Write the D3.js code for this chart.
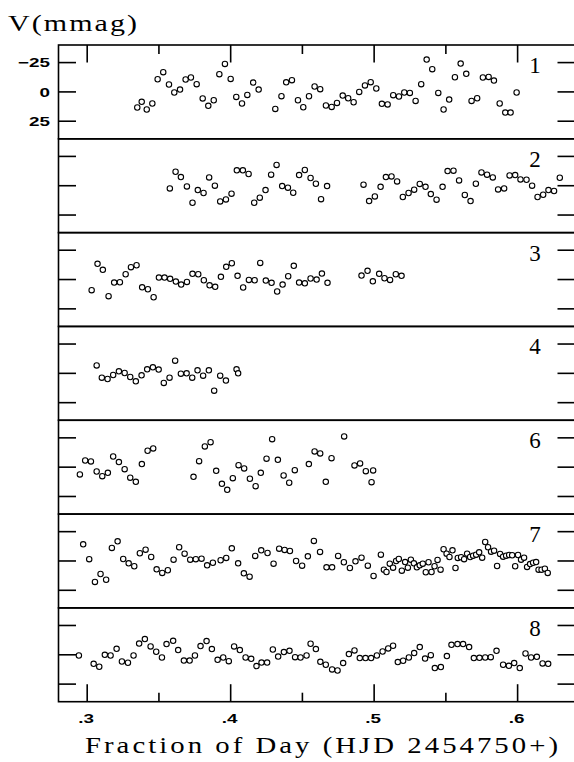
<!DOCTYPE html>
<html>
<head>
<meta charset="utf-8">
<script src="https://cdn.jsdelivr.net/npm/d3@7"></script>
<style>
  body { margin: 0; background: #fff; }
  svg { display: block; }
</style>
</head>
<body>
<div id="chart"></div>
<script>
// Light curves, one panel per night (fraction of day vs V in mmag)
const panelLabels = ['1', '2', '3', '4', '6', '7', '8'];

const t1 = [0.3349,0.3380,0.3415,0.3454,0.3491,0.3530,0.3570,0.3607,0.3647,0.3686,0.3723,0.3763,0.3805,0.3844,0.3882,0.3921,0.3960,0.4000,0.4039,0.4079,0.4116,0.4157,0.4195,0.4311,0.4354,0.4387,0.4427,0.4469,0.4506,0.4546,0.4585,0.4624,0.4664,0.4704,0.4741,0.4781,0.4819,0.4857,0.4896,0.4936,0.4976,0.5015,0.5054,0.5094,0.5133,0.5173,0.5210,0.5249,0.5289,0.5328,0.5366,0.5405,0.5447,0.5484,0.5523,0.5563,0.5603,0.5642,0.5679,0.5718,0.5758,0.5798,0.5835,0.5875,0.5914,0.5951,0.5993];
const v1 = [13.3,8.5,15.0,9.9,-10.8,-16.8,-6.3,0.5,-2.0,-10.6,-12.3,-6.6,5.6,11.9,7.1,-15.1,-23.9,-11.1,4.3,9.9,2.6,-8.0,-2.0,14.5,3.6,-8.2,-10.0,7.1,13.1,3.7,-4.6,-2.3,11.6,12.8,9.4,3.1,5.4,8.8,0,-5.5,-8.3,-2.9,10.2,10.7,2.8,3.9,0.5,0.9,7.7,-6.6,-27.6,-19.4,0.9,15.0,6.5,-12.5,-24.2,-15.4,7.7,5.4,-12.3,-12.8,-9.7,9.9,17.6,17.6,0.5];

const t2 = [0.3576,0.3616,0.3653,0.3695,0.3734,0.3771,0.3811,0.3850,0.3890,0.3927,0.3967,0.4006,0.4043,0.4085,0.4125,0.4164,0.4203,0.4243,0.4282,0.4320,0.4359,0.4399,0.4436,0.4477,0.4517,0.4557,0.4594,0.4630,0.4672,0.4926,0.4965,0.5005,0.5045,0.5082,0.5121,0.5160,0.5200,0.5240,0.5279,0.5318,0.5358,0.5395,0.5435,0.5477,0.5512,0.5553,0.5592,0.5632,0.5672,0.5709,0.5748,0.5787,0.5827,0.5864,0.5906,0.5944,0.5983,0.6020,0.6062,0.6101,0.6139,0.6178,0.6215,0.6254,0.6294];
const v2 = [2.3,-11.9,-7.4,0.6,14.5,3.7,6.2,-7.1,0,13.4,11.7,6.8,-13.1,-13.1,-10.0,14.5,10.2,3.7,-9.4,-17.7,0.3,1.7,6.0,-9.1,-13.4,-6.6,-1.7,11.5,0.3,-0.9,13.1,9.1,0.9,-7.4,-7.9,-3.7,9.6,6.2,3.4,-1.5,0.9,7.1,11.9,0.9,-12.5,-12.8,-4.5,7.9,13.1,-1.7,-11.3,-9.4,-7.1,3.2,2.3,-8.8,-9.1,-5.4,-5.1,0,9.6,7.7,3.7,4.5,-6.8];

const t3 = [0.3031,0.3072,0.3109,0.3149,0.3188,0.3228,0.3268,0.3305,0.3344,0.3383,0.3423,0.3463,0.3500,0.3539,0.3578,0.3618,0.3655,0.3695,0.3734,0.3774,0.3813,0.3853,0.3892,0.3932,0.3969,0.4008,0.4048,0.4087,0.4127,0.4167,0.4206,0.4245,0.4285,0.4324,0.4362,0.4401,0.4440,0.4477,0.4517,0.4557,0.4599,0.4636,0.4675,0.4912,0.4954,0.4991,0.5035,0.5072,0.5111,0.5151,0.5191];
const v3 = [9.1,-13.4,-8.3,14.2,2.6,2.3,-4.5,-10.5,-12.2,6.6,8.3,15.1,-1.7,-1.7,-0.6,1.7,4.3,2.0,-4.9,-4.5,0.6,4.9,6.2,-2.3,-10.8,-13.9,-3.2,6.8,0.3,0.6,-14.2,0.9,2.8,10.2,4.3,-2.8,-11.7,2.6,3.2,-0.9,0,-5.1,2.8,-3.4,-7.4,1.5,-4.9,-1.1,0.3,-4.5,-3.2];

const t4 = [0.3066,0.3102,0.3142,0.3181,0.3221,0.3261,0.3300,0.3339,0.3379,0.3418,0.3458,0.3498,0.3534,0.3574,0.3613,0.3653,0.3693,0.3732,0.3769,0.3808,0.3848,0.3885,0.3927,0.3967,0.4041,0.4052];
const v4 = [-6.8,3.7,4.8,1.4,-1.7,-0.3,3.1,6.8,1.7,-3.4,-5.1,-3.2,8.2,3.7,-10.8,0.3,0,3.7,-2.6,2.0,-2.6,14.8,2.0,6.2,-3.4,0];

const t6 = [0.2949,0.2986,0.3026,0.3066,0.3105,0.3144,0.3181,0.3221,0.3261,0.3300,0.3339,0.3381,0.3421,0.3460,0.3741,0.3780,0.3820,0.3860,0.3899,0.3939,0.3976,0.4015,0.4055,0.4094,0.4134,0.4174,0.4210,0.4250,0.4289,0.4329,0.4369,0.4408,0.4447,0.4545,0.4585,0.4624,0.4663,0.4703,0.4791,0.4863,0.4902,0.4942,0.4982,0.4993];
const v6 = [6.2,-5.7,-4.9,3.7,7.7,4.8,-9.1,-4.3,1.7,9.0,12.5,-2.6,-14.0,-16.0,8.2,-5.1,-17.7,-21.3,3.1,14.2,19.3,9.4,-1.7,1.1,9.9,16.2,4.8,-7.2,-23.9,-6.3,7.1,13.3,2.6,-2.6,-13.4,-11.7,12.5,-7.7,-26.2,-1.5,-3.2,3.4,12.8,2.8];

const t7 = [0.2972,0.3014,0.3054,0.3093,0.3132,0.3172,0.3212,0.3251,0.3289,0.3328,0.3367,0.3407,0.3446,0.3484,0.3523,0.3562,0.3602,0.3641,0.3679,0.3718,0.3757,0.3797,0.3836,0.3876,0.3930,0.3969,0.4008,0.4052,0.4092,0.4132,0.4171,0.4213,0.4257,0.4299,0.4338,0.4376,0.4413,0.4456,0.4498,0.4538,0.4580,0.4623,0.4668,0.4707,0.4749,0.4789,0.4831,0.4870,0.4912,0.4956,0.4996,0.5047,0.5068,0.5086,0.5109,0.5132,0.5153,0.5172,0.5193,0.5216,0.5235,0.5256,0.5277,0.5298,0.5318,0.5339,0.5360,0.5379,0.5400,0.5421,0.5442,0.5463,0.5484,0.5505,0.5525,0.5546,0.5567,0.5583,0.5606,0.5627,0.5648,0.5669,0.5690,0.5711,0.5732,0.5753,0.5774,0.5794,0.5815,0.5836,0.5857,0.5878,0.5899,0.5920,0.5941,0.5962,0.5983,0.6003,0.6024,0.6045,0.6066,0.6087,0.6108,0.6129,0.6146,0.6167,0.6190,0.6210];
const v7 = [-14.2,-1.5,17.9,11.1,16.0,-11.1,-16.8,-1.7,2.0,4.5,-6.6,-9.6,-3.4,7.1,10.2,7.9,-1.1,-11.7,-6.2,-1.1,-1.5,-2.0,3.7,1.5,-0.6,-2.6,-10.8,2.0,10.5,13.4,-4.3,-9.1,-6.8,2.3,-10.5,-9.4,-8.5,0,4.0,-4.0,-17.1,-7.7,5.4,5.4,-4.3,1.1,6.0,0.3,-2.8,4.0,12.8,-5.4,7.4,9.4,2.3,5.7,0,-1.7,8.3,0.9,5.7,-1.1,2.0,5.4,3.7,2.3,9.6,1.1,9.4,4.5,-0.9,7.4,-10.0,-6.2,-3.4,-9.1,6.0,-2.6,-3.2,-1.5,-6.2,-3.4,-4.5,-5.4,-7.4,-2.8,-16.2,-11.7,-7.9,-8.8,4.3,-6.0,-3.7,-4.5,-5.1,-4.9,4.5,-5.1,-1.1,-2.8,5.1,2.6,1.5,0.9,7.4,7.4,6.6,10.2];

const t8 = [0.2942,0.3045,0.3084,0.3123,0.3163,0.3205,0.3242,0.3284,0.3323,0.3362,0.3402,0.3442,0.3481,0.3521,0.3553,0.3599,0.3634,0.3674,0.3714,0.3751,0.3790,0.3832,0.3869,0.3909,0.3948,0.3987,0.4024,0.4064,0.4104,0.4143,0.4180,0.4215,0.4254,0.4294,0.4331,0.4371,0.4410,0.4449,0.4487,0.4529,0.4557,0.4594,0.4625,0.4663,0.4707,0.4745,0.4784,0.4824,0.4863,0.4900,0.4940,0.4979,0.5019,0.5059,0.5098,0.5132,0.5165,0.5202,0.5242,0.5279,0.5318,0.5355,0.5395,0.5423,0.5465,0.5507,0.5539,0.5581,0.5620,0.5662,0.5695,0.5734,0.5774,0.5813,0.5853,0.5899,0.5939,0.5976,0.6015,0.6055,0.6094,0.6134,0.6174,0.6213];
const v8 = [0.6,7.7,10.2,0,0.6,-5.1,5.7,6.8,0.6,-9.6,-13.4,-7.1,-2.6,2.3,-9.1,-11.9,-4.0,4.9,4.9,0.6,-7.4,-11.7,-4.9,4.3,2.3,5.4,-7.1,-4.0,2.3,3.4,9.6,6.6,6.6,-4.5,1.5,-2.3,-3.4,2.0,2.3,0.6,-9.4,-4.9,6.0,8.5,12.5,13.4,7.1,-0.6,-3.7,2.8,2.8,2.8,0.6,-2.8,-5.4,-7.7,6.2,5.1,2.3,-1.5,-6.6,3.2,0.3,11.3,10.5,1.1,-8.5,-9.1,-9.1,-6.6,2.8,2.6,2.3,2.0,-3.4,8.5,9.4,7.1,11.3,-1.1,2.3,1.7,7.4,7.7];

const panelTimes = [t1, t2, t3, t4, t6, t7, t8];
const panelMags = [v1, v2, v3, v4, v6, v7, v8];

const xMajor = [0.3, 0.4, 0.5, 0.6];
const xMinor = [0.35, 0.45, 0.55];
const yTicks = [-25, 0, 25];

// Layout (plotTop etc: `top` clashes with window.top)
const W = 574, H = 762;
const plotLeft = 58.5, plotRight = 575, plotTop = 45, plotBottom = 701.7;
const panelH = (plotBottom - plotTop) / panelLabels.length;
const majorLen = 17.5, minorLen = 9;

const svg = d3.select('#chart').append('svg')
    .attr('width', W)
    .attr('height', H);

const x = d3.scaleLinear().domain([0.28, 0.64]).range([plotLeft, plotRight]);
const y = d3.scaleLinear().domain([-40, 40]).range([0, panelH]);

// Panels
panelLabels.forEach((lab, i) => {
    const g = svg.append('g')
        .attr('transform', `translate(0, ${plotTop + i * panelH})`);

    // Frame
    g.append('rect')
        .attr('x', plotLeft).attr('y', 0)
        .attr('width', plotRight - plotLeft).attr('height', panelH)
        .attr('fill', 'none')
        .attr('stroke', '#000')
        .attr('stroke-width', 1.6);

    // Y ticks, left and right, pointing inward
    g.selectAll('.ytl').data(yTicks).enter().append('line')
        .attr('x1', plotLeft).attr('x2', plotLeft + majorLen)
        .attr('y1', d => y(d)).attr('y2', d => y(d))
        .attr('stroke', '#000').attr('stroke-width', 1.6);
    g.selectAll('.ytr').data(yTicks).enter().append('line')
        .attr('x1', plotRight - majorLen).attr('x2', plotRight)
        .attr('y1', d => y(d)).attr('y2', d => y(d))
        .attr('stroke', '#000').attr('stroke-width', 1.6);

    // Panel number
    g.append('text')
        .attr('x', 535).attr('y', 28)
        .attr('text-anchor', 'middle')
        .attr('font-family', 'Liberation Serif, serif')
        .attr('font-size', 23)
        .text(lab);

    // Points
    const pts = panelTimes[i].map((t, k) => [t, panelMags[i][k]]);
    g.selectAll('circle').data(pts).enter().append('circle')
        .attr('cx', d => x(d[0]))
        .attr('cy', d => y(d[1]))
        .attr('r', 2.7)
        .attr('fill', '#fff')
        .attr('stroke', '#000')
        .attr('stroke-width', 1.1);

    // Y labels only on the top panel
    if (i === 0) {
        g.selectAll('.ylab').data(yTicks).enter().append('text')
            .attr('transform', d => `translate(50, ${y(d) + 4.7}) scale(1.45, 1)`)
            .attr('text-anchor', 'end')
            .attr('font-family', 'Liberation Sans, Arial, sans-serif')
            .attr('font-weight', 'bold')
            .attr('font-size', 13)
            .text(d => d3.format('d')(d));
    }
});

// X ticks on top of the first panel and bottom of the last one
const xt = [
    ...xMajor.map(v => ({ v, len: majorLen })),
    ...xMinor.map(v => ({ v, len: minorLen }))
];
svg.selectAll('.xtt').data(xt).enter().append('line')
    .attr('x1', d => x(d.v)).attr('x2', d => x(d.v))
    .attr('y1', plotTop).attr('y2', d => plotTop + d.len)
    .attr('stroke', '#000').attr('stroke-width', 1.6);
svg.selectAll('.xtb').data(xt).enter().append('line')
    .attr('x1', d => x(d.v)).attr('x2', d => x(d.v))
    .attr('y1', plotBottom).attr('y2', d => plotBottom - d.len)
    .attr('stroke', '#000').attr('stroke-width', 1.6);

// X labels
svg.selectAll('.xlab').data(xMajor).enter().append('text')
    .attr('transform', d => `translate(${x(d) - 1}, 723) scale(1.45, 1)`)
    .attr('text-anchor', 'middle')
    .attr('font-family', 'Liberation Sans, Arial, sans-serif')
    .attr('font-weight', 'bold')
    .attr('font-size', 13)
    .text(d => d3.format('.1f')(d).replace(/^0/, ''));

// Axis titles: thin serif, a bit widened, rest made up by spacing
const stretch = 1.25;
svg.append('text')
    .attr('transform', `translate(85, 753) scale(${stretch}, 1)`)
    .attr('font-family', 'Liberation Serif, serif')
    .attr('font-size', 23)
    .attr('textLength', 473 / stretch)
    .attr('lengthAdjust', 'spacing')
    .text('Fraction of Day (HJD 2454750+)');

svg.append('text')
    .attr('transform', `translate(8, 30.5) scale(${stretch}, 1)`)
    .attr('font-family', 'Liberation Serif, serif')
    .attr('font-size', 24)
    .attr('textLength', 129 / stretch)
    .attr('lengthAdjust', 'spacing')
    .text('V(mmag)');
</script>
</body>
</html>
